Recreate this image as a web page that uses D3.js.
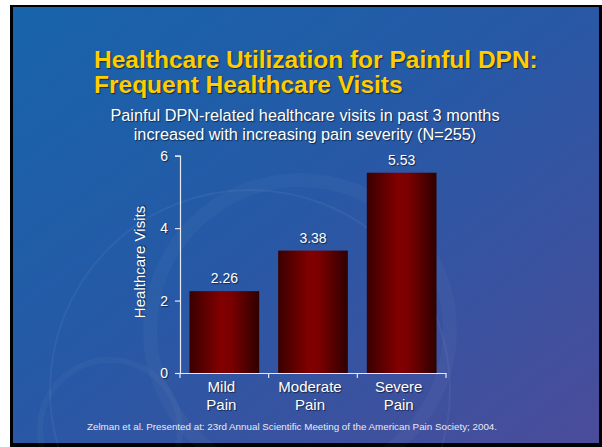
<!DOCTYPE html>
<html>
<head>
<meta charset="utf-8">
<script src="https://cdn.jsdelivr.net/npm/d3@7"></script>
<style>
  body { margin: 0; background: #fff; }
  svg text { font-family: "Liberation Sans", Arial, sans-serif; }
  .shadow { text-shadow: 1px 1px 1px rgba(0,0,0,0.55); }
</style>
</head>
<body>
<div class="chart"></div>
<script>
// data
var categories = ['Mild Pain', 'Moderate Pain', 'Severe Pain'];
var visits = [2.26, 3.38, 5.53];
var yTicks = [0, 2, 4, 6];
var titleLines = ['Healthcare Utilization for Painful DPN:', 'Frequent Healthcare Visits'];
var subtitleLines = ['Painful DPN-related healthcare visits in past 3 months',
                     'increased with increasing pain severity (N=255)'];
var yLabel = 'Healthcare Visits';
var footer = 'Zelman et al. Presented at: 23rd Annual Scientific Meeting of the American Pain Society; 2004.';

var svgWidth = 602;
var svgHeight = 447;
var plot = {left: 180, right: 446, top: 155.7, bottom: 373};

var svg = d3.select('.chart')
    .append('svg')
    .attr('width', svgWidth)
    .attr('height', svgHeight);

var defs = svg.append('defs');

// slide background
var bg = defs.append('linearGradient')
    .attr('id', 'bg')
    .attr('x1', '0').attr('y1', '0')
    .attr('x2', '1').attr('y2', '1');
bg.append('stop').attr('offset', '0%').attr('stop-color', '#1764ab');
bg.append('stop').attr('offset', '45%').attr('stop-color', '#2659a6');
bg.append('stop').attr('offset', '100%').attr('stop-color', '#4b4c9a');

// bar shading
var barGrad = defs.append('linearGradient')
    .attr('id', 'bar')
    .attr('x1', '0').attr('y1', '0')
    .attr('x2', '1').attr('y2', '0');
barGrad.append('stop').attr('offset', '0%').attr('stop-color', '#3a0000');
barGrad.append('stop').attr('offset', '45%').attr('stop-color', '#820000');
barGrad.append('stop').attr('offset', '60%').attr('stop-color', '#7a0000');
barGrad.append('stop').attr('offset', '100%').attr('stop-color', '#2e0000');

svg.append('rect')
    .attr('x', 10).attr('y', 5)
    .attr('width', 592).attr('height', 442)
    .attr('fill', '#000');
svg.append('rect')
    .attr('x', 13).attr('y', 7)
    .attr('width', 586).attr('height', 436)
    .attr('fill', 'url(#bg)');

// faint decorative arcs
var deco = svg.append('g')
    .attr('fill', 'none')
    .attr('stroke', '#ffffff');
deco.append('circle').attr('cx', 300).attr('cy', 330).attr('r', 150)
    .attr('stroke-width', 14).attr('stroke-opacity', 0.03);
deco.append('circle').attr('cx', 250).attr('cy', 390).attr('r', 200)
    .attr('stroke-width', 2).attr('stroke-opacity', 0.05);
deco.append('circle').attr('cx', 110).attr('cy', 430).attr('r', 70)
    .attr('stroke-width', 6).attr('stroke-opacity', 0.03);

// title
svg.append('g').selectAll('text')
    .data(titleLines)
    .enter()
    .append('text')
    .attr('class', 'shadow')
    .attr('x', 94)
    .attr('y', function(d, i) { return 68 + i * 25; })
    .attr('font-size', '24.5px')
    .attr('font-weight', 'bold')
    .attr('fill', '#ffcc00')
    .text(function(d) { return d; });

// subtitle
svg.append('g').selectAll('text')
    .data(subtitleLines)
    .enter()
    .append('text')
    .attr('class', 'shadow')
    .attr('x', 305)
    .attr('y', function(d, i) { return 121 + i * 19; })
    .attr('font-size', '16.3px')
    .attr('fill', '#ffffff')
    .style('text-anchor', 'middle')
    .text(function(d) { return d; });

// scales
var xBand = d3.scaleBand()
    .domain(categories)
    .range([plot.left, plot.right])
    .paddingInner(0.214)
    .paddingOuter(0.107);
var yLinearScale = d3.scaleLinear()
    .domain([0, 6])
    .range([plot.bottom, plot.top]);

var chart = svg.append('g');

// bars
chart.selectAll('rect.bar')
    .data(visits)
    .enter()
    .append('rect')
    .attr('class', 'bar')
    .attr('x', function(d, i) { return xBand(categories[i]); })
    .attr('y', function(d) { return yLinearScale(d); })
    .attr('width', xBand.bandwidth())
    .attr('height', function(d) { return yLinearScale(0) - yLinearScale(d); })
    .attr('fill', 'url(#bar)');

// value labels
chart.selectAll('text.val')
    .data(visits)
    .enter()
    .append('text')
    .attr('class', 'val shadow')
    .attr('x', function(d, i) { return xBand(categories[i]) + xBand.bandwidth() / 2; })
    .attr('y', function(d) { return yLinearScale(d) - 8; })
    .attr('font-size', '14px')
    .attr('fill', '#ffffff')
    .style('text-anchor', 'middle')
    .text(function(d) { return d.toFixed(2); });

// y axis
var leftAxis = d3.axisLeft(yLinearScale)
    .tickValues(yTicks)
    .tickSize(5)
    .tickPadding(7)
    .tickFormat(d3.format('d'));
var yAxisG = chart.append('g')
    .attr('transform', 'translate(' + plot.left + ',0)')
    .call(leftAxis);
yAxisG.select('.domain').attr('stroke', '#e6e8f4').attr('stroke-width', 1.2);
yAxisG.selectAll('.tick line').attr('stroke', '#e6e8f4').attr('stroke-width', 1.2);
yAxisG.selectAll('.tick text')
    .attr('class', 'shadow')
    .attr('fill', '#ffffff')
    .attr('font-size', '14px')
    .attr('font-family', '"Liberation Sans", Arial, sans-serif');

// x axis: line with ticks at category boundaries
var bottomAxis = d3.axisBottom(xBand).tickSize(0).tickFormat('');
var xAxisG = chart.append('g')
    .attr('transform', 'translate(0,' + plot.bottom + ')')
    .call(bottomAxis);
xAxisG.select('.domain').attr('stroke', '#e6e8f4').attr('stroke-width', 1.2);
var step = xBand.step();
xAxisG.selectAll('line.sep')
    .data(categories)
    .enter()
    .append('line')
    .attr('class', 'sep')
    .attr('x1', function(d) { return xBand(d) - step * 0.107 + step; })
    .attr('x2', function(d) { return xBand(d) - step * 0.107 + step; })
    .attr('y1', 0)
    .attr('y2', 5)
    .attr('stroke', '#e6e8f4')
    .attr('stroke-width', 1.2);
xAxisG.append('line')
    .attr('x1', plot.left).attr('x2', plot.left)
    .attr('y1', 0).attr('y2', 5)
    .attr('stroke', '#e6e8f4')
    .attr('stroke-width', 1.2);

// category labels, two lines each
var catLabels = chart.selectAll('text.cat')
    .data(categories)
    .enter()
    .append('text')
    .attr('class', 'cat shadow')
    .attr('font-size', '15px')
    .attr('fill', '#ffffff')
    .style('text-anchor', 'middle');
catLabels.selectAll('tspan')
    .data(function(d) {
        var parts = d.split(' ');
        var cx = xBand(d) + xBand.bandwidth() / 2 - 3;
        return parts.map(function(p) { return {t: p, x: cx}; });
    })
    .enter()
    .append('tspan')
    .attr('x', function(d) { return d.x; })
    .attr('y', function(d, i) { return 392 + i * 18; })
    .text(function(d) { return d.t; });

// y axis label
chart.append('text')
    .attr('class', 'shadow')
    .attr('transform', 'rotate(-90)')
    .attr('x', 0 - 262)
    .attr('y', 145)
    .attr('font-size', '15px')
    .attr('fill', '#ffffff')
    .style('text-anchor', 'middle')
    .text(yLabel);

// footer
svg.append('text')
    .attr('x', 292)
    .attr('y', 430)
    .attr('font-size', '9.8px')
    .attr('fill', '#e8eaf4')
    .style('text-anchor', 'middle')
    .text(footer);
</script>
</body>
</html>
